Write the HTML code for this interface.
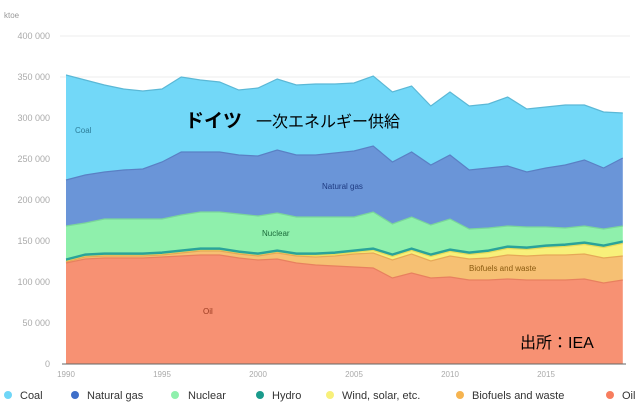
<!DOCTYPE html><html><head><meta charset="utf-8"><style>body{margin:0;background:#fff}svg{display:block;font-family:"Liberation Sans","Noto Sans CJK JP",sans-serif}</style></head><body>
<svg id="s" width="638" height="407" xmlns="http://www.w3.org/2000/svg">
<rect width="638" height="407" fill="#fff"/>
<text x="4" y="18" font-size="8" fill="#999">ktoe</text>
<g font-size="9" fill="#aaa" text-anchor="end">
<text x="50" y="39">400 000</text><text x="50" y="80">350 000</text><text x="50" y="121">300 000</text><text x="50" y="162">250 000</text><text x="50" y="203">200 000</text><text x="50" y="244">150 000</text><text x="50" y="285">100 000</text><text x="50" y="326">50 000</text><text x="50" y="367">0</text></g>
<g stroke="#eee"><line x1="60" x2="630" y1="36" y2="36"/><line x1="60" x2="630" y1="77" y2="77"/></g>
<g id="areas"></g>
<line x1="62" x2="626" y1="364" y2="364" stroke="#666"/>
<g font-size="8" fill="#aaa" text-anchor="middle"><text x="66" y="377">1990</text><text x="162" y="377">1995</text><text x="258" y="377">2000</text><text x="354" y="377">2005</text><text x="450" y="377">2010</text><text x="546" y="377">2015</text></g>
<g font-size="8" fill="#2d7d99"><text x="75" y="133">Coal</text></g>
<text x="322" y="189" font-size="8" fill="#1e3a80">Natural gas</text>
<text x="262" y="236" font-size="8" fill="#1b6b3a">Nuclear</text>
<text x="469" y="271" font-size="8" fill="#8a5a10">Biofuels and waste</text>
<text x="203" y="314" font-size="8" fill="#9a3a20">Oil</text>
<text x="185" y="127" font-size="19" font-weight="bold" fill="#000">ドイツ</text>
<text x="256" y="127" font-size="16" fill="#000">一次エネルギー供給</text>
<text x="520" y="348" font-size="16" fill="#000">出所：IEA</text>
<g font-size="11" fill="#333">
<circle cx="8" cy="395" r="4" fill="#6fd6f7"/><text x="20" y="399">Coal</text>
<circle cx="75" cy="395" r="4" fill="#3f6fc9"/><text x="87" y="399">Natural gas</text>
<circle cx="175" cy="395" r="4" fill="#8ff0ac"/><text x="188" y="399">Nuclear</text>
<circle cx="260" cy="395" r="4" fill="#1a9b8c"/><text x="272" y="399">Hydro</text>
<circle cx="330" cy="395" r="4" fill="#f8f07a"/><text x="342" y="399">Wind, solar, etc.</text>
<circle cx="460" cy="395" r="4" fill="#f6b450"/><text x="472" y="399">Biofuels and waste</text>
<circle cx="610" cy="395" r="4" fill="#f77d5e"/><text x="622" y="399">Oil</text></g>
</svg>
<script>
var T=[75,80,85,89,91,89,77,80,82,90,88,79,85,84,84,83,76,92,86,106,92,106,104,97,109,107,105,105,112,113];
var G=[180,175,172,170,169,162,152,152,152,155,156,150,155,155,153,151,146,162,152,165,155,170,168,166,172,168,165,160,168,158];
var N=[226,223,219,219,219,219,215,212,212,214,216,213,217,217,217,217,212,224,217,225,219,229,228,226,227,227,228,226,229,226];
var H=[259,254,253,253,253,252,250,248,248,251,253,250,253,253,252,250,248,254,248,254,249,252,250,246,247,245,244,242,245,241];
var W=H.map(function(v){return v+2.5});
var B=[262,257,256,256,256,255,253,251,251,254,256,253,256,257,256,254,253,260,254,261,256,259,258,255,256,255,255,254,258,256];
var O=[263,259,258,258,258,257,256,255,255,258,260,259,263,265,266,267,268,278,273,278,277,280,280,279,280,280,280,279,283,280];
var Z=T.map(function(){return 364});
function x(i){return 66+i*19.2}
var layers=[[T,G,"#72d8f8","#5bb8d6"],[G,N,"#6a95d8","#5a80c4"],[N,H,"#8ff0ac","#7ad69a"],[H,W,"#2aa39a","#2aa39a"],[W,B,"#f8f07a","#e8dc5a"],[B,O,"#f6c073","#e6a858"],[O,Z,"#f79173","#e8805f"]];
var g=document.getElementById("areas"),h="";
layers.forEach(function(l){var d="M"+T.map(function(_,i){return x(i)+","+l[0][i]}).join(" L");for(var i=29;i>=0;i--)d+=" L"+x(i)+","+l[1][i];d+="Z";
h+='<path d="'+d+'" fill="'+l[2]+'"/>';
h+='<polyline fill="none" stroke="'+l[3]+'" stroke-width="1.2" points="'+l[0].map(function(v,i){return x(i)+","+v}).join(" ")+'"/>';});
g.innerHTML=h;
</script>
</body></html>
